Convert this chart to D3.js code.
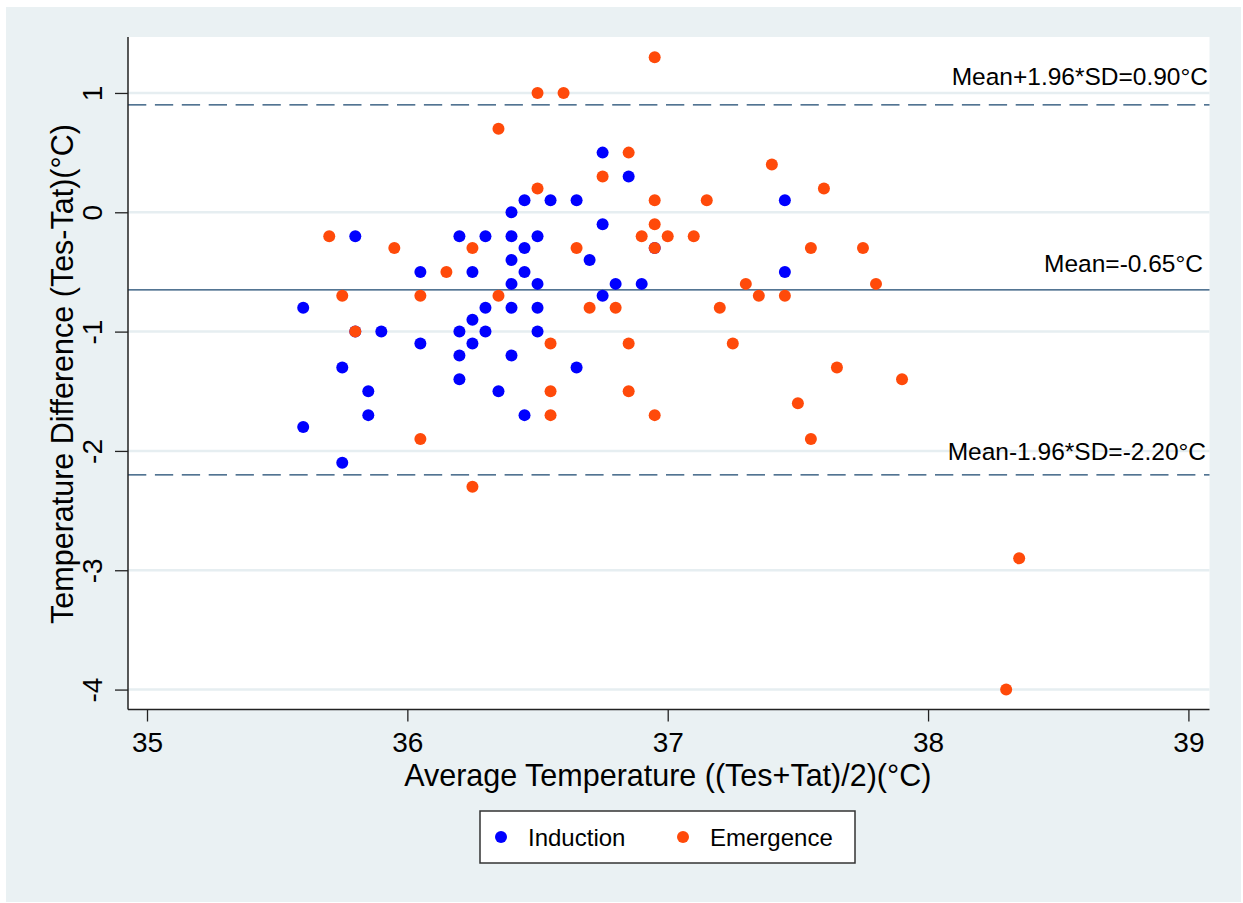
<!DOCTYPE html>
<html>
<head>
<meta charset="utf-8">
<script src="https://cdn.jsdelivr.net/npm/d3@7"></script>
<style>
  body { margin: 0; background: #fff; }
  text { font-family: "Liberation Sans", Arial, Helvetica, sans-serif; fill: #000; }
</style>
</head>
<body>
<svg id="chart" width="1243" height="903"></svg>
<script>
// Bland-Altman data
const inductionAvg  = [35.6, 35.6, 35.75, 35.75, 35.8, 35.8, 35.85, 35.85, 35.9, 36.05, 36.05,
  36.2, 36.2, 36.2, 36.2, 36.25, 36.25, 36.25, 36.3, 36.3, 36.3, 36.35,
  36.4, 36.4, 36.4, 36.4, 36.4, 36.4, 36.45, 36.45, 36.45, 36.45,
  36.5, 36.5, 36.5, 36.5, 36.55, 36.65, 36.65, 36.7, 36.75, 36.75, 36.75,
  36.8, 36.85, 36.9, 36.95, 37.45, 37.45];
const inductionDiff = [-0.8, -1.8, -1.3, -2.1, -0.2, -1.0, -1.5, -1.7, -1.0, -0.5, -1.1,
  -0.2, -1.0, -1.2, -1.4, -0.5, -0.9, -1.1, -0.2, -0.8, -1.0, -1.5,
  0.0, -0.2, -0.4, -0.6, -0.8, -1.2, 0.1, -0.3, -0.5, -1.7,
  -0.2, -0.6, -0.8, -1.0, 0.1, 0.1, -1.3, -0.4, 0.5, -0.1, -0.7,
  -0.6, 0.3, -0.6, -0.3, 0.1, -0.5];

const emergenceAvg  = [35.7, 35.75, 35.8, 35.95, 36.05, 36.05, 36.15, 36.25, 36.25, 36.35, 36.35,
  36.5, 36.5, 36.55, 36.55, 36.55, 36.6, 36.65, 36.7, 36.75, 36.8,
  36.85, 36.85, 36.85, 36.9, 36.95, 36.95, 36.95, 36.95, 36.95,
  37.0, 37.1, 37.15, 37.2, 37.25, 37.3, 37.35, 37.4, 37.45, 37.5,
  37.55, 37.55, 37.6, 37.65, 37.75, 37.8, 37.9, 38.3, 38.35];
const emergenceDiff = [-0.2, -0.7, -1.0, -0.3, -0.7, -1.9, -0.5, -0.3, -2.3, 0.7, -0.7,
  1.0, 0.2, -1.1, -1.5, -1.7, 1.0, -0.3, -0.8, 0.3, -0.8,
  0.5, -1.1, -1.5, -0.2, 1.3, 0.1, -0.1, -0.3, -1.7,
  -0.2, -0.2, 0.1, -0.8, -1.1, -0.6, -0.7, 0.4, -0.7, -1.6,
  -0.3, -1.9, 0.2, -1.3, -0.3, -0.6, -1.4, -4.0, -2.9];

const xTicks = [35, 36, 37, 38, 39];
const yTicks = [1, 0, -1, -2, -3, -4];

const limitValues = [0.90, -0.65, -2.20];
const limitLabels = ["Mean+1.96*SD=0.90°C", "Mean=-0.65°C", "Mean-1.96*SD=-2.20°C"];
const limitDashed = [true, false, true];

const seriesNames  = ["Induction", "Emergence"];
const seriesColors = ["#0000ff", "#ff4a0a"];

const svg = d3.select("#chart");

// outer light panel
svg.append("rect").attr("x", 6).attr("y", 7).attr("width", 1235).attr("height", 895)
  .attr("fill", "#eaf1f3");

const plotLeft = 128, plotRight = 1209.5, plotTop = 37, plotBottom = 709.5;

const x = d3.scaleLinear().domain([34.927, 39.081]).range([plotLeft, plotRight]);
const y = d3.scaleLinear().domain([-4.167, 1.469]).range([plotBottom, plotTop]);

// plot area
svg.append("rect").attr("x", plotLeft).attr("y", plotTop)
  .attr("width", plotRight - plotLeft).attr("height", plotBottom - plotTop).attr("fill", "#fff");

// horizontal grid
svg.append("g").selectAll("line").data(yTicks).enter().append("line")
  .attr("x1", plotLeft).attr("x2", plotRight)
  .attr("y1", d => y(d)).attr("y2", d => y(d))
  .attr("stroke", "#e6eef1").attr("stroke-width", 2.5);

// reference lines
svg.append("g").selectAll("line").data(limitValues).enter().append("line")
  .attr("x1", plotLeft).attr("x2", plotRight)
  .attr("y1", d => y(d)).attr("y2", d => y(d))
  .attr("stroke", "#1a476f").attr("stroke-width", 1.3)
  .attr("stroke-dasharray", (d, i) => limitDashed[i] ? "18.3,8.6" : null);

const labelRight = [1208, 1203, 1206];
const labelLift = [20, 18, 15];
svg.append("g").selectAll("text").data(limitValues).enter().append("text")
  .attr("x", (d, i) => labelRight[i])
  .attr("y", (d, i) => y(d) - labelLift[i])
  .attr("text-anchor", "end")
  .attr("font-size", 24.5)
  .text((d, i) => limitLabels[i]);

// points
const series = [
  inductionAvg.map((v, i) => ({ x: v, y: inductionDiff[i] })),
  emergenceAvg.map((v, i) => ({ x: v, y: emergenceDiff[i] }))
];
series.forEach((pts, s) => {
  svg.append("g").selectAll("circle").data(pts).enter().append("circle")
    .attr("cx", d => x(d.x)).attr("cy", d => y(d.y))
    .attr("r", 6).attr("fill", seriesColors[s]);
});

// axes (plain hyphen minus, as in the original)
const fontStack = '"Liberation Sans", Arial, Helvetica, sans-serif';
const plainFormat = d => String(d);

const xAxis = svg.append("g").attr("transform", `translate(0,${plotBottom})`)
  .call(d3.axisBottom(x).tickValues(xTicks).tickSize(12).tickFormat(plainFormat));
xAxis.select(".domain").remove();
xAxis.selectAll(".tick line").attr("stroke", "#222").attr("stroke-width", 1.3);
xAxis.selectAll(".tick text").attr("y", 42.5).attr("dy", null)
  .attr("font-size", 28).attr("fill", "#000").style("font-family", fontStack);

const yAxis = svg.append("g").attr("transform", `translate(${plotLeft},0)`)
  .call(d3.axisLeft(y).tickValues(yTicks).tickSize(13).tickFormat(plainFormat));
yAxis.select(".domain").remove();
yAxis.selectAll(".tick line").attr("stroke", "#222").attr("stroke-width", 1.3);
yAxis.selectAll(".tick text").attr("x", null).attr("dy", null)
  .attr("text-anchor", "middle")
  .attr("transform", "translate(-26,0) rotate(-90)")
  .attr("font-size", 28).attr("fill", "#000").style("font-family", fontStack);

svg.append("line").attr("x1", plotLeft).attr("x2", plotLeft).attr("y1", plotTop).attr("y2", plotBottom)
  .attr("stroke", "#222").attr("stroke-width", 1.5);
svg.append("line").attr("x1", plotLeft).attr("x2", plotRight).attr("y1", plotBottom).attr("y2", plotBottom)
  .attr("stroke", "#222").attr("stroke-width", 1.5);

// axis titles
svg.append("text").attr("x", (plotLeft + plotRight) / 2 - 1).attr("y", 786)
  .attr("text-anchor", "middle").attr("font-size", 30.5)
  .text("Average Temperature ((Tes+Tat)/2)(°C)");
svg.append("text").attr("transform", `translate(73,374) rotate(-90)`)
  .attr("text-anchor", "middle").attr("font-size", 30.5)
  .text("Temperature Difference (Tes-Tat)(°C)");

// legend
const legend = svg.append("g");
legend.append("rect").attr("x", 480).attr("y", 811).attr("width", 375).attr("height", 52)
  .attr("fill", "#fff").attr("stroke", "#333").attr("stroke-width", 1.5);
const legendDotX = [501, 683];
seriesNames.forEach((name, i) => {
  legend.append("circle").attr("cx", legendDotX[i]).attr("cy", 837).attr("r", 6)
    .attr("fill", seriesColors[i]);
  legend.append("text").attr("x", legendDotX[i] + 27).attr("y", 846)
    .attr("font-size", 24).text(name);
});
</script>
</body>
</html>
